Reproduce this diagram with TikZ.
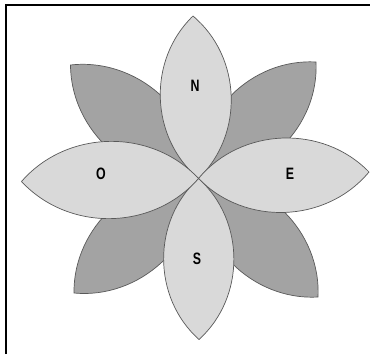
\documentclass[tikz,border=0pt]{standalone}
\usepackage{fontspec}
\newfontfamily\labfont{Liberation Sans}[FakeStretch=0.75]
\begin{document}
\begin{tikzpicture}[x=1pt,y=-1pt,
  petal/.style={draw=black!65, line width=0.7pt, line join=miter},
  lightpetal/.style={petal, fill=black!15},
  darkpetal/.style={petal, fill=black!36},
  lab/.style={font=\labfont\bfseries\fontsize{16.5}{16.5}\selectfont, text=black, inner sep=0pt},
  frameline/.style={line width=2pt, draw=black}]
\useasboundingbox (0,0) rectangle (370,354);
% frame
\coordinate (fb) at (6,354);
\coordinate (fc) at (6,5);
\coordinate (fr) at (370,5);
\draw[frameline] (fb) -- (fc) -- (fr);
% centre and tips
\coordinate (C) at (198.5,178.5);
\coordinate (tN) at (193,16);
\coordinate (tS) at (199,339.5);
\coordinate (tO) at (21.5,181.5);
\coordinate (tE) at (369,172);
\coordinate (tNO) at (70.5,65);
\coordinate (tNE) at (316,62);
\coordinate (tSO) at (74,293);
\coordinate (tSE) at (318,297);
% diagonal (dark) petals
\foreach \t in {tNO,tNE,tSO,tSE}
  \draw[darkpetal] (C) to[bend left=48] (\t) to[bend left=48] (C) -- cycle;
% cardinal (light) petals
\foreach \t in {tN,tE,tS,tO}
  \draw[lightpetal] (C) to[bend left=48] (\t) to[bend left=48] (C) -- cycle;
% labels
\node[lab] (lN) at (195,86) {N};
\node[lab] (lE) at (290,174) {E};
\node[lab] (lO) at (101,173.5) {O};
\node[lab] (lS) at (197,259) {S};
\end{tikzpicture}
\end{document}
